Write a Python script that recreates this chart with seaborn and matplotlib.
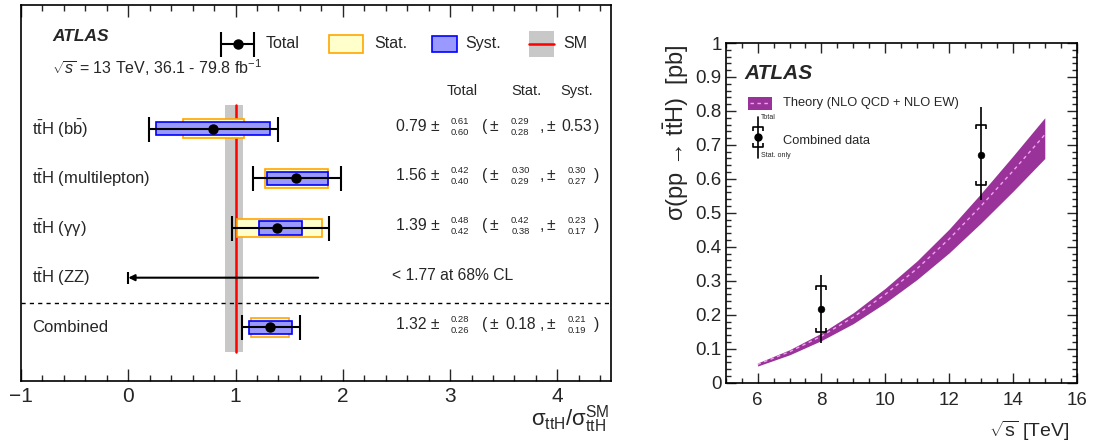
import numpy as np
import matplotlib
matplotlib.use('Agg')
import matplotlib.pyplot as plt
import seaborn as sns
from matplotlib.path import Path
from matplotlib.patches import Rectangle
from matplotlib.ticker import MultipleLocator, FuncFormatter

# ---------------- data: left panel (signal strength) ----------------
row_labels = [r'$\mathrm{t\bar{t}H}$ ($\mathrm{b\bar{b}}$)',
              r'$\mathrm{t\bar{t}H}$ (multilepton)',
              r'$\mathrm{t\bar{t}H}$ (γγ)',
              r'$\mathrm{t\bar{t}H}$ (ZZ)',
              'Combined']
row_pos = [5, 4, 3, 2, 1]
mu = [0.79, 1.56, 1.39, np.nan, 1.32]
tot_up = [0.61, 0.42, 0.48, np.nan, 0.28]
tot_dn = [0.60, 0.40, 0.42, np.nan, 0.26]
stat_up = [0.29, 0.30, 0.42, np.nan, 0.18]
stat_dn = [0.28, 0.29, 0.38, np.nan, 0.18]
syst_up = [0.53, 0.30, 0.23, np.nan, 0.21]
syst_dn = [0.53, 0.27, 0.17, np.nan, 0.19]
zz_limit = 1.77
sm_value = 1.0
sm_band = [0.90, 1.065]

# ---------------- data: right panel (cross section vs sqrt(s)) ----------------
sqrt_s_theory = [6, 7, 8, 9, 10, 11, 12, 13, 14, 15]
xs_center = [0.054, 0.091, 0.137, 0.193, 0.260, 0.336, 0.423, 0.520, 0.623, 0.730]
xs_upper = [0.058, 0.097, 0.146, 0.206, 0.278, 0.359, 0.452, 0.557, 0.667, 0.780]
xs_lower = [0.049, 0.082, 0.124, 0.174, 0.235, 0.304, 0.382, 0.470, 0.563, 0.660]
sqrt_s_data = [8, 13]
xs_data = [0.217, 0.670]
xs_tot_hi = [0.318, 0.811]
xs_tot_lo = [0.118, 0.538]
xs_stat_hi = [0.285, 0.759]
xs_stat_lo = [0.148, 0.582]

# ---------------- style ----------------
sns.set_theme(style='ticks')
plt.rcParams['font.family'] = ['Liberation Sans', 'DejaVu Sans']
plt.rcParams['mathtext.fontset'] = 'custom'
plt.rcParams['mathtext.rm'] = 'Liberation Sans'
plt.rcParams['mathtext.it'] = 'Liberation Sans:italic'
plt.rcParams['mathtext.bf'] = 'Liberation Sans:bold'
plt.rcParams['axes.linewidth'] = 1.1
plt.rcParams['axes.edgecolor'] = 'black'

fig = plt.figure(figsize=(10.94, 4.42), dpi=100)
W, H = 1094.0, 442.0
ax1 = fig.add_axes([21 / W, (H - 381) / H, 590 / W, 376 / H])
ax2 = fig.add_axes([725.7 / W, (H - 382.7) / H, 351 / W, 339.7 / H])

# ================= left panel =================
ax1.set_xlim(-1, 4.5)
ax1.set_ylim(-0.08, 7.49)

# SM band + line
ax1.fill_betweenx([0.5, 5.48], sm_band[0], sm_band[1], color='#c8c8c8', lw=0, zorder=1)
ax1.plot([sm_value, sm_value], [0.5, 5.48], color='red', lw=1.8, zorder=2)

mu_a = np.array(mu)
y_a = np.array(row_pos, dtype=float)
ok = ~np.isnan(mu_a)
sl = mu_a - np.array(stat_dn)
sw = np.array(stat_up) + np.array(stat_dn)
yl = mu_a - np.array(syst_dn)
yw = np.array(syst_up) + np.array(syst_dn)
ax1.barh(y_a[ok], sw[ok], left=sl[ok], height=0.37, color='#ffffcc',
         edgecolor='#ffa500', linewidth=1.2, zorder=3)
ax1.barh(y_a[ok], yw[ok], left=yl[ok], height=0.27, color='#9999ff',
         edgecolor='#0000ff', linewidth=1.2, zorder=4)
ax1.errorbar(mu_a[ok], y_a[ok],
             xerr=[np.array(tot_dn)[ok], np.array(tot_up)[ok]],
             fmt='o', color='black', ms=6.5, elinewidth=1.5, capsize=9,
             capthick=1.5, zorder=5)

# ZZ upper limit arrow
zz_y = row_pos[3]
ax1.annotate('', xy=(0, zz_y), xytext=(zz_limit, zz_y),
             arrowprops=dict(arrowstyle='-|>', color='black', lw=1.5,
                             mutation_scale=9, shrinkA=0, shrinkB=0), zorder=5)
ax1.plot([0], [zz_y], marker='|', ms=8, mew=1.5, color='black', zorder=5)

# separator
ax1.axhline(1.5, color='black', ls=(0, (3, 3)), lw=1.0, zorder=2)

# row labels
for lab, y in zip(row_labels, row_pos):
    ax1.text(-0.895, y, lab, fontsize=12, ha='left', va='center')

# values text
fs_main, fs_small = 11.3, 6.8
def t(x, y, s, **kw):
    ax1.text(x, y, s, fontsize=kw.pop('fs', fs_main), ha=kw.pop('ha', 'left'),
             va='center', **kw)

def stack(x, y, up, dn):
    t(x, y + 0.15, f'{up:.2f}', fs=fs_small, ha='center')
    t(x, y - 0.07, f'{dn:.2f}', fs=fs_small, ha='center')

for i, y in enumerate(row_pos):
    if np.isnan(mu[i]):
        t(2.46, y + 0.04, f'< {zz_limit:.2f} at 68% CL')
        continue
    yt = y + 0.05
    t(2.50, yt, f'{mu[i]:.2f} ±')
    stack(3.09, y, tot_up[i], tot_dn[i])
    t(3.30, yt, '(')
    t(3.37, yt, '±')
    if stat_up[i] == stat_dn[i]:
        t(3.52, yt, f'{stat_up[i]:.2f}')
    else:
        stack(3.655, y, stat_up[i], stat_dn[i])
    t(3.835, yt, ',')
    t(3.90, yt, '±')
    if syst_up[i] == syst_dn[i]:
        t(4.034, yt, f'{syst_up[i]:.2f}')
    else:
        stack(4.18, y, syst_up[i], syst_dn[i])
    t(4.345, yt, ')')

# column headers
for lab, x in zip(['Total', 'Stat.', 'Syst.'], [3.114, 3.71, 4.176]):
    ax1.text(x, 5.76, lab, fontsize=10.5, ha='center', va='center')

# ATLAS label
ax1.text(-0.71, 6.85, 'ATLAS', fontsize=12.5, fontweight='bold', fontstyle='italic',
         ha='left', va='center')
ax1.text(-0.71, 6.22, r'$\sqrt{s}$ = 13 TeV, 36.1 - 79.8 fb$^{-1}$', fontsize=11.5,
         ha='left', va='center')

# legend (drawn manually)
ly = 6.706
ax1.errorbar([1.02], [ly], xerr=[[0.155], [0.155]], fmt='o', color='black', ms=6.5,
             elinewidth=1.5, capsize=9, capthick=1.5)
ax1.text(1.277, ly, 'Total', fontsize=11.5, ha='left', va='center')
ax1.add_patch(Rectangle((1.874, 6.53), 0.317, 0.36, facecolor='#ffffcc',
                        edgecolor='#ffa500', lw=1.2))
ax1.text(2.293, ly, 'Stat.', fontsize=11.5, ha='left', va='center')
ax1.add_patch(Rectangle((2.834, 6.55), 0.233, 0.32, facecolor='#9999ff',
                        edgecolor='#0000ff', lw=1.2))
ax1.text(3.142, ly, 'Syst.', fontsize=11.5, ha='left', va='center')
ax1.add_patch(Rectangle((3.738, 6.45), 0.233, 0.52, facecolor='#c8c8c8', lw=0))
ax1.plot([3.738, 3.971], [ly, ly], color='red', lw=1.8)
ax1.text(4.055, ly, 'SM', fontsize=11.5, ha='left', va='center')

ax1.set_yticks([])
ax1.xaxis.set_major_locator(MultipleLocator(1))
ax1.xaxis.set_minor_locator(MultipleLocator(0.2))
ax1.tick_params(axis='x', which='both', direction='in', top=True, bottom=True,
                labelsize=15, pad=4)
ax1.tick_params(axis='x', which='major', length=8.5, width=1.0)
ax1.tick_params(axis='x', which='minor', length=4.3, width=1.0)
ax1.set_xlabel('σ$_{\\mathrm{ttH}}$/σ$^{\\mathrm{SM}}_{\\mathrm{ttH}}$', fontsize=16)
ax1.xaxis.set_label_coords(0.998, -0.06)
ax1.xaxis.label.set_ha('right')
for s in ax1.spines.values():
    s.set_linewidth(1.2)

# ================= right panel =================
ax2.set_xlim(5, 16)
ax2.set_ylim(0, 1)
ax2.fill_between(sqrt_s_theory, xs_lower, xs_upper, color='#993399', lw=0, zorder=2)
sns.lineplot(x=sqrt_s_theory, y=xs_center, ax=ax2, color='#f5a0f5', lw=1.0,
             ls=(0, (2.5, 2.5)), zorder=3)

x_d = np.array(sqrt_s_data, dtype=float)
y_d = np.array(xs_data)
ax2.errorbar(x_d, y_d, yerr=[y_d - np.array(xs_tot_lo), np.array(xs_tot_hi) - y_d],
             fmt='none', ecolor='black', elinewidth=1.2, capsize=0, zorder=4)
cap_top = Path([(-1, -0.8), (-1, 0), (1, 0), (1, -0.8)],
               [Path.MOVETO, Path.LINETO, Path.LINETO, Path.LINETO])
cap_bot = Path([(-1, 0.8), (-1, 0), (1, 0), (1, 0.8)],
               [Path.MOVETO, Path.LINETO, Path.LINETO, Path.LINETO])
ax2.plot(x_d, xs_stat_hi, ls='none', marker=cap_top, ms=7, mfc='none', mec='black',
         mew=1.2, zorder=4)
ax2.plot(x_d, xs_stat_lo, ls='none', marker=cap_bot, ms=7, mfc='none', mec='black',
         mew=1.2, zorder=4)
sns.scatterplot(x=sqrt_s_data, y=xs_data, ax=ax2, color='black', s=24,
                edgecolor='black', zorder=5)

# legend (drawn manually)
ax2.text(5.60, 0.909, 'ATLAS', fontsize=15, fontweight='bold', fontstyle='italic',
         ha='left', va='center')
ax2.add_patch(Rectangle((5.70, 0.803), 0.75, 0.038, facecolor='#993399', lw=0))
ax2.plot([5.76, 6.40], [0.822, 0.822], color='#f5a0f5', lw=1.0, ls=(0, (2.5, 2.5)))
ax2.text(6.80, 0.822, 'Theory (NLO QCD + NLO EW)', fontsize=9.3, ha='left', va='center')
ax2.plot([6.02, 6.02], [0.661, 0.782], color='black', lw=1.2)
ax2.plot([6.02], [0.753], marker=cap_top, ms=7, mfc='none', mec='black', mew=1.2)
ax2.plot([6.02], [0.694], marker=cap_bot, ms=7, mfc='none', mec='black', mew=1.2)
ax2.plot([6.02], [0.723], marker='o', ms=5, color='black')
ax2.text(6.10, 0.782, 'Total', fontsize=5, ha='left', va='center')
ax2.text(6.10, 0.668, 'Stat. only', fontsize=5, ha='left', va='center')
ax2.text(6.80, 0.711, 'Combined data', fontsize=9.3, ha='left', va='center')

ax2.xaxis.set_major_locator(MultipleLocator(2))
ax2.xaxis.set_minor_locator(MultipleLocator(0.5))
ax2.yaxis.set_major_locator(MultipleLocator(0.1))
ax2.yaxis.set_minor_locator(MultipleLocator(0.02))
ax2.yaxis.set_major_formatter(FuncFormatter(lambda v, p: f'{v:g}'))
ax2.tick_params(axis='both', which='both', direction='in', top=True, right=True,
                labelsize=13.5)
ax2.tick_params(axis='both', which='major', length=7, width=1.0)
ax2.tick_params(axis='both', which='minor', length=3.6, width=1.0)
ax2.tick_params(axis='x', which='both', pad=7)
ax2.tick_params(axis='y', which='both', pad=3)
ax2.set_xlabel(r'$\sqrt{\mathrm{s}}$ [TeV]', fontsize=14)
ax2.xaxis.set_label_coords(0.98, -0.105)
ax2.xaxis.label.set_ha('right')
ax2.set_ylabel('σ(pp → t$\\bar{\\mathrm{t}}$H)  [pb]', fontsize=17)
ax2.yaxis.set_label_coords(-0.100, 0.995)
ax2.yaxis.label.set_ha('right')
for s in ax2.spines.values():
    s.set_linewidth(1.2)

fig.savefig('out.png', dpi=100)
